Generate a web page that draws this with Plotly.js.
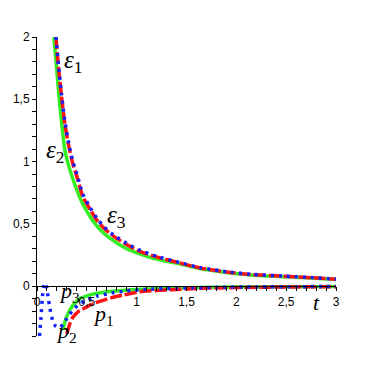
<!DOCTYPE html>
<html>
<head>
<meta charset="utf-8">
<script src="https://cdn.plot.ly/plotly-3.0.1.min.js"></script>
<style>body{margin:0;background:#fff}#plot{width:373px;height:373px}</style>
</head>
<body>
<div id="plot"></div>
<script>
// eps curves (upper)
var tEpsGreen = [0.17, 0.2, 0.22, 0.25, 0.28, 0.32, 0.36, 0.43, 0.5, 0.565, 0.65, 0.73, 0.9, 1.03, 1.2, 1.43, 1.63, 1.94, 2.14, 2.47, 2.75, 3.0];
var epsGreen  = [2.0, 1.72, 1.53, 1.29, 1.09, 0.96, 0.86, 0.71, 0.60, 0.52, 0.44, 0.385, 0.30, 0.26, 0.217, 0.18, 0.142, 0.106, 0.09, 0.076, 0.065, 0.054];
var tEpsRed   = [0.19, 0.215, 0.245, 0.28, 0.32, 0.36, 0.40, 0.46, 0.53, 0.60, 0.68, 0.77, 0.93, 1.03, 1.2, 1.43, 1.63, 1.94, 2.14, 2.47, 2.75, 3.0];
var epsRed    = [2.0, 1.76, 1.53, 1.30, 1.12, 0.98, 0.88, 0.72, 0.62, 0.53, 0.46, 0.40, 0.32, 0.28, 0.235, 0.187, 0.147, 0.11, 0.094, 0.080, 0.068, 0.056];
var epsBlue   = [2.0, 1.78, 1.55, 1.32, 1.14, 1.0, 0.90, 0.74, 0.635, 0.545, 0.47, 0.41, 0.33, 0.29, 0.24, 0.19, 0.15, 0.112, 0.096, 0.081, 0.069, 0.057];

// p curves (lower)
var tPGreen = [0.26, 0.29, 0.33, 0.38, 0.43, 0.5, 0.56, 0.65, 0.76, 0.88, 1.0, 1.2, 1.5, 1.8, 2.2, 2.6, 3.0];
var pGreen  = [-0.35, -0.26, -0.19, -0.135, -0.10, -0.078, -0.064, -0.05, -0.04, -0.032, -0.027, -0.02, -0.013, -0.009, -0.006, -0.004, -0.003];
var tPRed   = [0.30, 0.33, 0.36, 0.42, 0.50, 0.58, 0.67, 0.76, 0.86, 1.03, 1.2, 1.5, 1.8, 2.2, 2.6, 3.0];
var pRed    = [-0.38, -0.30, -0.25, -0.20, -0.166, -0.135, -0.112, -0.09, -0.072, -0.045, -0.035, -0.022, -0.014, -0.009, -0.006, -0.004];
var tPBlue  = [0.025, 0.04, 0.055, 0.07, 0.082, 0.095, 0.11, 0.13, 0.155, 0.185, 0.22, 0.26, 0.30, 0.36, 0.43, 0.50, 0.60, 0.75, 0.9, 1.1, 1.4, 1.8, 2.2, 2.6, 3.0];
var pBlue   = [-0.40, -0.25, -0.08, 0.01, 0.025, 0.0, -0.08, -0.18, -0.27, -0.32, -0.335, -0.31, -0.26, -0.19, -0.14, -0.11, -0.08, -0.055, -0.038, -0.026, -0.016, -0.009, -0.006, -0.004, -0.003];

var green = '#33ee22', red = '#ff1111', blue = '#1122ff';

function line(x, y, color, dash, smooth) {
    return {x: x, y: y, type: 'scatter', mode: 'lines', hoverinfo: 'skip',
        line: {color: color, width: 3.5, dash: dash, shape: 'spline', smoothing: smooth}};
}

var data = [
    line(tEpsGreen, epsGreen, green, 'solid', 0.8),
    line(tEpsRed, epsRed, red, '12px,3px', 0.8),
    line(tEpsRed, epsBlue, blue, '3px,5px', 0.8),
    line(tPGreen, pGreen, green, 'solid', 0.6),
    line(tPRed, pRed, red, '12px,3px', 0.6),
    line(tPBlue, pBlue, blue, '3px,5px', 0.4)
];

function note(x, y, text, size) {
    return {x: x, y: y, xref: 'x', yref: 'y', text: text, showarrow: false,
        font: {family: 'Liberation Serif', size: size, color: '#000'}};
}

var layout = {
    width: 373, height: 373,
    margin: {l: 37, r: 37, t: 37, b: 37},
    showlegend: false,
    separators: ', ',
    paper_bgcolor: '#fff', plot_bgcolor: '#fff',
    font: {family: 'Liberation Sans', size: 12, color: '#000'},
    xaxis: {
        range: [0, 3], anchor: 'free', position: 0.4 / 2.4,
        showline: true, linecolor: '#000', linewidth: 1,
        showgrid: false, zeroline: false,
        tick0: 0, dtick: 0.5, ticks: 'outside', ticklen: 4, tickcolor: '#000',
        minor: {dtick: 0.1, ticks: 'outside', ticklen: 4, tickcolor: '#000', showgrid: false}
    },
    yaxis: {
        range: [-0.4, 2],
        showline: true, linecolor: '#000', linewidth: 1,
        showgrid: false, zeroline: false,
        tick0: 0, dtick: 0.5, ticks: 'outside', ticklen: 4, tickcolor: '#000',
        minor: {dtick: 0.1, ticks: 'outside', ticklen: 4, tickcolor: '#000', showgrid: false}
    },
    annotations: [
        note(0.37, 1.8, '<i>ε</i><sub>1</sub>', 25),
        note(0.19, 1.08, '<i>ε</i><sub>2</sub>', 25),
        note(0.8, 0.56, '<i>ε</i><sub>3</sub>', 25),
        note(0.33, -0.05, '<i>p</i><sub>3</sub>', 22),
        note(0.30, -0.37, '<i>p</i><sub>2</sub>', 22),
        note(0.67, -0.23, '<i>p</i><sub>1</sub>', 22),
        note(2.8, -0.13, '<i>t</i>', 22)
    ]
};

Plotly.newPlot('plot', data, layout, {staticPlot: true});
</script>
</body>
</html>
